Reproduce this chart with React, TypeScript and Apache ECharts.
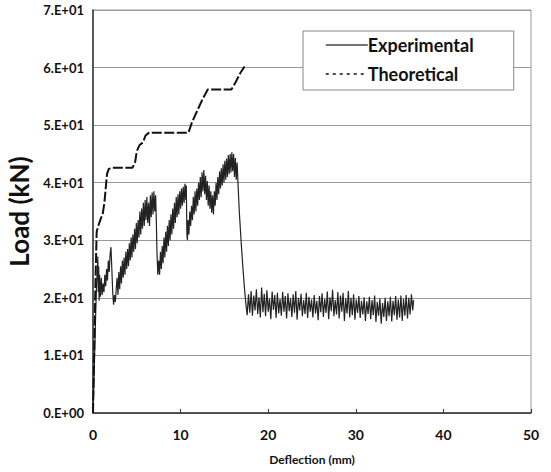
import React, { useEffect, useRef } from "react";
import * as echarts from "echarts";

const xTickLabels = ["0", "10", "20", "30", "40", "50"];
const yTickLabels = ["0.E+00", "1.E+01", "2.E+01", "3.E+01", "4.E+01", "5.E+01", "6.E+01", "7.E+01"];

const theoretical: [number, number][] = [
  [0, 0], [0.15, 12], [0.3, 24], [0.42, 31.5], [0.6, 32.5], [0.9, 33.8], [1.1, 34.5],
  [1.3, 36.5], [1.45, 39], [1.6, 41.5], [1.8, 42.4], [2.2, 42.6], [4.5, 42.6], [4.8, 43.5],
  [5.0, 45.5], [5.3, 46.5], [5.7, 47], [6.0, 48.2], [6.4, 48.7], [10.9, 48.7], [11.3, 50.5],
  [11.9, 52.5], [12.5, 54.5], [13.1, 56.2], [15.8, 56.2], [16.3, 57.5], [16.8, 59], [17.3, 60.2],
];

const experimentalRise: [number, number][] = [
  [0, 0], [0.1, 5], [0.2, 11], [0.3, 17], [0.4, 22], [0.5, 25], [0.55, 27.2], [0.6, 21],
  [0.65, 25.5], [0.7, 19.5], [0.75, 24], [0.85, 20.2], [0.95, 23.5], [1.05, 20.5], [1.15, 22.5],
  [1.25, 21], [1.35, 24], [1.45, 22], [1.55, 25], [1.65, 23], [1.75, 26.5], [1.85, 24.5],
  [1.95, 27.5], [2.05, 28.8], [2.15, 25], [2.25, 21], [2.35, 18.8], [2.45, 20.5], [2.55, 19.3],
  [2.65, 21.5], [2.75, 23.5], [2.85, 20.5], [2.95, 24.5], [3.05, 21.5], [3.15, 25.5], [3.25, 22.5],
  [3.35, 26.5], [3.45, 23.5], [3.55, 27], [3.65, 24], [3.75, 28], [3.85, 25], [3.95, 28.5],
  [4.05, 25.5], [4.15, 29.5], [4.25, 26.5], [4.35, 30.5], [4.45, 27], [4.55, 31], [4.65, 28],
  [4.75, 32], [4.85, 28.5], [4.95, 33], [5.05, 29.5], [5.15, 33.5], [5.25, 30.5], [5.35, 35],
  [5.45, 31], [5.55, 35.5], [5.65, 32], [5.75, 36.5], [5.85, 32.5], [5.95, 37], [6.05, 33.5],
  [6.15, 37.5], [6.25, 33], [6.35, 36.5], [6.45, 32.5], [6.55, 37.8], [6.65, 34], [6.75, 38.3],
  [6.85, 34.5], [6.95, 38.5], [7.05, 35], [7.15, 37.8], [7.22, 34], [7.3, 28], [7.4, 24],
  [7.5, 26.5], [7.6, 24], [7.7, 28], [7.8, 25], [7.9, 29], [8.0, 26], [8.1, 30.5], [8.2, 27],
  [8.3, 31.5], [8.4, 28], [8.5, 32.5], [8.6, 29], [8.7, 33.5], [8.8, 30], [8.9, 34.5], [9.0, 31],
  [9.1, 35.5], [9.2, 32], [9.3, 36.5], [9.4, 33], [9.5, 37.5], [9.6, 34], [9.7, 38], [9.8, 34.5],
  [9.9, 38.5], [10.0, 35.5], [10.1, 39], [10.2, 36], [10.3, 39.3], [10.4, 36.5], [10.5, 39.8],
  [10.6, 37], [10.65, 39.5], [10.72, 31], [10.78, 30],
  [10.85, 33.5], [10.95, 31], [11.05, 35], [11.15, 32.5], [11.25, 36], [11.35, 33.5], [11.45, 37.5],
  [11.55, 34.5], [11.65, 38.5], [11.75, 35], [11.85, 39], [11.95, 36], [12.05, 40], [12.15, 37],
  [12.25, 41], [12.35, 37.5], [12.45, 41.8], [12.55, 38.5], [12.65, 42.2], [12.75, 38],
  [12.85, 41.2], [12.95, 37], [13.05, 40.3], [13.15, 36], [13.25, 39.5], [13.35, 35.5],
  [13.45, 38.5], [13.55, 34.8], [13.65, 37.8], [13.75, 34.5], [13.85, 38.5], [13.95, 36],
  [14.05, 40], [14.15, 37], [14.25, 41], [14.35, 38], [14.45, 42], [14.55, 39], [14.65, 42.5],
  [14.75, 39.5], [14.85, 43.2], [14.95, 40], [15.05, 43.8], [15.15, 40.5], [15.25, 44.2],
  [15.35, 41], [15.45, 44.8], [15.55, 41.5], [15.65, 45], [15.75, 41.8], [15.85, 45.3], [15.95, 42],
  [16.05, 45], [16.15, 41], [16.25, 44.3], [16.35, 40.5], [16.45, 43.5], [16.55, 40],
];

const experimentalDrop: [number, number][] = [
  [16.7, 35], [16.9, 30], [17.1, 25.5], [17.3, 21.5], [17.45, 19],
];

const experimentalResidual: [number, number][] = [
  [17.6, 17.0], [17.75, 20.6], [17.9, 17.4], [18.05, 21.2], [18.2, 16.9], [18.35, 20.4],
  [18.5, 17.8], [18.65, 21.5], [18.8, 17.2], [18.95, 20.1], [19.1, 16.6], [19.25, 21.8],
  [19.4, 17.5], [19.55, 20.7], [19.7, 16.8], [19.85, 21.3], [20.0, 17.6], [20.15, 19.9],
  [20.3, 16.3], [20.45, 21.1], [20.6, 17.9], [20.75, 20.5], [20.9, 16.5], [21.05, 20.9],
  [21.2, 17.3], [21.35, 19.8], [21.5, 16.9], [21.65, 21.0], [21.8, 17.6], [21.95, 20.3],
  [22.1, 16.4], [22.25, 20.8], [22.4, 17.7], [22.55, 19.9], [22.7, 16.7], [22.85, 20.6],
  [23.0, 17.4], [23.15, 21.2], [23.3, 16.2], [23.45, 20.0], [23.6, 17.8], [23.75, 20.7],
  [23.9, 16.8], [24.05, 19.6], [24.2, 17.2], [24.35, 20.9], [24.5, 16.5], [24.65, 20.2],
  [24.8, 17.6], [24.95, 19.7], [25.1, 16.6], [25.25, 20.5], [25.4, 17.3], [25.55, 19.5],
  [25.7, 16.1], [25.85, 20.3], [26.0, 17.5], [26.15, 20.8], [26.3, 16.7], [26.45, 19.8],
  [26.6, 17.4], [26.75, 21.1], [26.9, 16.3], [27.05, 20.1], [27.2, 17.7], [27.35, 21.4],
  [27.5, 16.8], [27.65, 19.6], [27.8, 17.1], [27.95, 21.0], [28.1, 16.4], [28.25, 20.4],
  [28.4, 17.6], [28.55, 20.9], [28.7, 16.0], [28.85, 19.9], [29.0, 17.3], [29.15, 21.2],
  [29.3, 16.6], [29.45, 20.0], [29.6, 17.0], [29.75, 20.6], [29.9, 16.2], [30.05, 19.7],
  [30.2, 17.4], [30.35, 20.3], [30.5, 16.5], [30.65, 19.5], [30.8, 17.1], [30.95, 20.1],
  [31.1, 16.0], [31.25, 19.4], [31.4, 17.2], [31.55, 20.2], [31.7, 16.3], [31.85, 19.6],
  [32.0, 17.0], [32.15, 20.4], [32.3, 15.8], [32.45, 19.3], [32.6, 16.9], [32.75, 19.9],
  [32.9, 15.5], [33.05, 19.1], [33.2, 16.7], [33.35, 20.0], [33.5, 16.0], [33.65, 19.4],
  [33.8, 16.8], [33.95, 20.2], [34.1, 15.9], [34.25, 19.5], [34.4, 17.0], [34.55, 20.3],
  [34.7, 16.2], [34.85, 19.7], [35.0, 16.6], [35.15, 20.4], [35.3, 16.0], [35.45, 19.8],
  [35.6, 16.9], [35.75, 20.5], [35.9, 16.4], [36.05, 20.0], [36.2, 17.1], [36.35, 20.6],
  [36.5, 17.8], [36.6, 19.6],
];

const markerPoint: [number, number][] = [[16.9, 17.7]];

const FONT = "Lato, 'DejaVu Sans', sans-serif";

export default function App() {
  const ref = useRef<HTMLDivElement>(null);
  useEffect(() => {
    if (!ref.current) return;
    const chart = echarts.init(ref.current, null, { renderer: "svg" });
    const experimental = [...experimentalRise, ...experimentalDrop, ...experimentalResidual];
    chart.setOption({
      animation: false,
      backgroundColor: "#ffffff",
      textStyle: { fontFamily: FONT },
      grid: {
        left: 93,
        right: 20,
        top: 10,
        bottom: 59,
        show: true,
        containLabel: false,
        outerBoundsMode: "none",
        borderColor: "#999999",
        borderWidth: 1,
      },
      legend: {
        left: 303,
        top: 31,
        orient: "vertical",
        backgroundColor: "#ffffff",
        borderColor: "#888888",
        borderWidth: 1,
        borderRadius: 0,
        padding: [4, 18, 6, 22],
        itemGap: 9,
        itemWidth: 42,
        itemHeight: 14,
        selectedMode: false,
        textStyle: {
          fontFamily: FONT,
          fontSize: 18,
          color: "#111",
          fontWeight: "bold",
          lineHeight: 20,
          width: 128,
          padding: [0, 0, 0, -5],
        },
        data: [
          {
            name: "Experimental",
            lineStyle: { color: "#444", width: 1.5, type: "solid" },
            itemStyle: { opacity: 0, color: "transparent", borderWidth: 0 },
          },
          {
            name: "Theoretical",
            lineStyle: { color: "#111", width: 1.5, type: [3, 4] },
            itemStyle: { opacity: 0, color: "transparent", borderWidth: 0 },
          },
        ],
      },
      xAxis: {
        type: "value",
        min: 0,
        max: 50,
        interval: 10,
        name: "Deflection (mm)",
        nameLocation: "middle",
        nameGap: 40,
        nameTextStyle: { fontFamily: FONT, fontSize: 12, color: "#111", fontWeight: "bold" },
        axisLine: { show: true, onZero: false, lineStyle: { color: "#333", width: 1.5 } },
        axisTick: { show: true, inside: true, length: 4, lineStyle: { color: "#333" } },
        axisLabel: {
          margin: 14,
          fontFamily: FONT,
          fontSize: 14,
          color: "#111",
          fontWeight: "bold",
          formatter: (v: number) => xTickLabels[Math.round(v / 10)] ?? "",
        },
        splitLine: { show: false },
      },
      yAxis: {
        type: "value",
        min: 0,
        max: 70,
        interval: 10,
        name: "Load (kN)",
        nameLocation: "middle",
        nameGap: 56,
        nameTextStyle: { fontFamily: FONT, fontSize: 26, color: "#111", fontWeight: "bold" },
        axisLine: { show: true, onZero: false, lineStyle: { color: "#333", width: 1.5 } },
        axisTick: { show: false },
        axisLabel: {
          margin: 9,
          fontFamily: FONT,
          fontSize: 13,
          color: "#111",
          fontWeight: "bold",
          formatter: (v: number) => yTickLabels[Math.round(v / 10)] ?? "",
        },
        splitLine: { show: true, lineStyle: { color: "#999999", width: 1.2 } },
      },
      series: [
        {
          name: "Experimental",
          type: "line",
          data: experimental,
          symbol: "none",
          itemStyle: { color: "#333" },
          lineStyle: { color: "#222", width: 1.2 },
          z: 3,
        },
        {
          name: "Theoretical",
          type: "line",
          data: theoretical,
          symbol: "none",
          itemStyle: { color: "#111" },
          lineStyle: { color: "#111", width: 2, type: [10, 2.5] },
          z: 4,
        },
        {
          name: "marker",
          type: "scatter",
          data: markerPoint,
          symbol: "emptyCircle",
          symbolSize: 7,
          itemStyle: { color: "#fff", borderColor: "#444", borderWidth: 1 },
          z: 5,
        },
      ],
    });
    return () => chart.dispose();
  }, []);
  return (
    <div
      ref={ref}
      style={{ position: "absolute", left: 0, top: 0, width: 551, height: 472 }}
    />
  );
}
